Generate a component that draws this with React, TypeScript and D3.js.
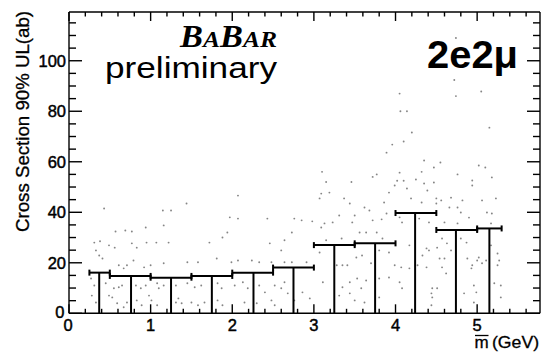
import React from "react";
import * as d3 from "d3";

const W = 541;
const H = 354;

// Mass bins of the upper-limit histogram (GeV)
const binLow = [0.25, 0.5, 1.0, 1.5, 2.0, 2.5, 3.0, 3.5, 4.0, 4.5, 5.0];
const binHigh = [0.5, 1.0, 1.5, 2.0, 2.5, 3.0, 3.5, 4.0, 4.5, 5.0, 5.3];
const binMark = [0.37, 0.76, 1.25, 1.75, 2.26, 2.75, 3.25, 3.75, 4.24, 4.74, 5.15];
// 90% CL upper limit on the cross section (ab)
const upperLimit = [16.1, 14.8, 14.1, 14.8, 16.1, 18.1, 27.0, 27.7, 39.7, 33.0, 33.6];

const xTickValues = [0, 1, 2, 3, 4, 5];
const yTickValues = [0, 20, 40, 60, 80, 100];

// Individual limit points scattered behind the histogram: [mass, UL]
const scatterPoints: [number, number][] = [
  [0.43, 41.5], [0.57, 32.4], [0.69, 32.8], [0.77, 32.4], [0.94, 34], [1.15, 40.7], [1.25, 40.7], [1.16, 34.8],
  [2.07, 46.6], [1.44, 43.5], [1.97, 38], [2.07, 37.5], [2.43, 37.5], [2.76, 37.5], [1.94, 32], [2.73, 32],
  [3.89, 63.6], [3.1, 56], [3.77, 55], [3.72, 54], [3.15, 52], [3.46, 52], [4.05, 55.7], [4.02, 52.5],
  [4.1, 52.5], [3.99, 50.6], [4.14, 49.4], [3.09, 47.4], [3.19, 47.8], [3.92, 47.8], [3.07, 45.5], [3.37, 45.5],
  [3.44, 43.5], [3.86, 43.9], [3.62, 41.9], [3.68, 40.7], [4.19, 45.5], [2.85, 36.8], [2.98, 36.4], [3.31, 38.7],
  [3.5, 38.7], [3.23, 36], [3.13, 35.6], [3.72, 36.8], [3.83, 37.2], [3.89, 39.5], [4.05, 38], [4.08, 36],
  [3.47, 36], [3.09, 34], [3.64, 32], [3.56, 32], [3.77, 32],
  [4.35, 60.5], [4.47, 57.7], [4.55, 59.7], [4.32, 56], [4.25, 53], [4.35, 51.4], [4.39, 48.6], [4.47, 51.8],
  [4.76, 55], [5.02, 58.5], [5.1, 57.7], [5.18, 53.8], [4.94, 52.6], [4.94, 50.6], [4.32, 43.9], [4.5, 45.5],
  [4.56, 44.7], [4.68, 45.8], [4.82, 44.7], [5.06, 44.7], [5.23, 45.5], [4.5, 43.5], [4.66, 41.9], [4.76, 41.9],
  [4.8, 39.9], [4.9, 37.9], [4.29, 37.5], [4.41, 36], [4.6, 36], [4.76, 35.6], [5.12, 39.9], [5.18, 39.5], [5.17, 35.6],
  [4.05, 87], [4.74, 109], [4.72, 92.4], [4.74, 86], [5.05, 87.8], [4.06, 80], [4.14, 80], [4.2, 71.6],
  [4.1, 68], [3.96, 66.8], [5.15, 73.5],
  [0.31, 28], [0.33, 24.9], [0.37, 22.9], [0.41, 21.7], [0.49, 26.9], [0.77, 27.7], [0.83, 26], [0.95, 28],
  [1.07, 28], [1.22, 28], [0.61, 19], [0.67, 17.8], [0.71, 19], [0.79, 20.9], [0.92, 18.2], [1, 19],
  [1.16, 19.8], [0.27, 13.8], [0.31, 11], [0.28, 7], [0.33, 4.3], [0.45, 11.9], [0.55, 9.9], [0.61, 10.3],
  [0.65, 11], [0.49, 7], [0.53, 6.3], [0.59, 4], [0.71, 4.3], [0.67, 2.4], [0.82, 11], [0.88, 9.9],
  [0.94, 11], [1.08, 11.9], [1.1, 9.9], [1.16, 11], [0.83, 5.1], [0.89, 3.2], [1.01, 5.1], [1.08, 3.2],
  [0.98, 7], [1.31, 11], [1.34, 5.9], [1.31, 4.3], [1.38, 4], [0.38, 28.5], [0.56, 26],
  [1.72, 28], [1.88, 30], [2.46, 27.7], [2.64, 28.9], [2.6, 24.9], [1.45, 20.2], [1.58, 20.2], [1.81, 21.7],
  [1.99, 20.2], [2.07, 20.9], [2.24, 20.9], [2.33, 20.2], [2.48, 20.2], [2.64, 20.2], [2.73, 20.2], [1.45, 11.9],
  [1.54, 10.3], [1.62, 11], [1.82, 11.9], [1.87, 9.9], [2.03, 11], [2.13, 12.3], [2.19, 9.9], [2.33, 11],
  [2.4, 8.3], [2.52, 11], [2.6, 9.9], [2.64, 12.3], [2.68, 7.9], [1.5, 4.3], [1.58, 3.2], [1.66, 4.3],
  [1.82, 5.1], [1.88, 3.2], [2.15, 4.3], [2.3, 4], [2.48, 5.1], [2.52, 3.2], [2.76, 5.1],
  [2.91, 20.2], [2.86, 8.3], [2.95, 5.9], [3.11, 12.3], [3.07, 24.1], [3.28, 19], [3.35, 19], [3.41, 19],
  [3.52, 22.1], [3.59, 22.9], [3.7, 19.8], [3.53, 13.8], [3.44, 12.3], [3.35, 10.3], [3.64, 13], [3.31, 7],
  [3.44, 7.9], [3.5, 5.1], [3.58, 9.9], [3.62, 4.3], [3.8, 24.9], [3.92, 24.1], [3.99, 19], [4.07, 18.2],
  [4.17, 17.8], [3.8, 13.8], [3.92, 14.2], [4.05, 12.3], [3.8, 6.3], [4.08, 9.9], [4.17, 26.9], [3.15, 28.9],
  [3.34, 29.6], [3.84, 29.6],
  [4.38, 25.7], [4.41, 24.9], [4.33, 22.9], [4.27, 19], [4.38, 18.2], [4.51, 26], [4.54, 21.7], [4.6, 21.7],
  [4.57, 18.2], [4.62, 15.8], [4.63, 27.7], [4.68, 24.9], [4.57, 29.6], [4.45, 9.9], [4.51, 9.9], [4.44, 7.9],
  [4.45, 6.3], [4.44, 3.2], [4.8, 29.6], [4.87, 28], [4.88, 21.7], [4.94, 19], [4.93, 17.8], [5.02, 22.1],
  [5.06, 19.8], [5.11, 20.9], [5, 20.9], [4.96, 11], [4.99, 8.3], [4.84, 7.9], [4.96, 4.3], [5.17, 26.9],
  [5.25, 23.7], [5.27, 20.9], [5.25, 19], [5.21, 11.9], [5.29, 11], [5.29, 6.3],
];

const FONT = "'Liberation Sans', Arial, Helvetica, sans-serif";

export default function App() {
  const x = d3.scaleLinear().domain([0, 5.77]).range([69, 540]);
  const y = d3.scaleLinear().domain([0, 119.3]).range([313.3, 12]);
  const [x0, x1] = x.range();
  const [yb, yt] = y.range();

  const xMinor = d3.range(0, 5.77, 0.2).filter((v) => Math.round(v * 5) % 5 !== 0);
  const yMinor = d3.range(0, 119.3, 5).filter((v) => Math.round(v) % 20 !== 0);

  const capH = 3;

  return (
    <svg
      width={W}
      height={H}
      viewBox={`0 0 ${W} ${H}`}
      style={{ position: "absolute", left: 0, top: 0, background: "#fff" }}
    >
      <rect x={0} y={0} width={W} height={H} fill="#fff" />

      {/* scattered limit points */}
      <g fill="#444" fillOpacity={0.65}>
        {scatterPoints.map(([mx, ul], i) => (
          <circle key={i} cx={x(mx)} cy={y(ul)} r={0.95} />
        ))}
      </g>

      {/* upper-limit histogram: vertical drop lines and bin-width bars */}
      <g stroke="#000" strokeWidth={2} fill="none">
        {upperLimit.map((v, i) => (
          <g key={i}>
            <line x1={x(binMark[i])} x2={x(binMark[i])} y1={yb} y2={y(v)} />
            <line x1={x(binLow[i])} x2={x(binHigh[i])} y1={y(v)} y2={y(v)} />
            <line x1={x(binLow[i])} x2={x(binLow[i])} y1={y(v) - capH} y2={y(v) + capH} />
            <line x1={x(binHigh[i])} x2={x(binHigh[i])} y1={y(v) - capH} y2={y(v) + capH} />
          </g>
        ))}
      </g>

      {/* frame */}
      <g stroke="#000" strokeWidth={1.4} fill="none">
        <line x1={x0} x2={x1} y1={yb} y2={yb} />
        <line x1={x0} x2={x1} y1={yt} y2={yt} />
        <line x1={x0} x2={x0} y1={yt} y2={yb} />
        <line x1={x1} x2={x1} y1={yt} y2={yb} />
      </g>

      {/* ticks */}
      <g stroke="#000" strokeWidth={1.4}>
        {xTickValues.map((v) => (
          <g key={`xt${v}`}>
            <line x1={x(v)} x2={x(v)} y1={yb} y2={yb - 9} />
            <line x1={x(v)} x2={x(v)} y1={yt} y2={yt + 9} />
          </g>
        ))}
        {xMinor.map((v, i) => (
          <g key={`xm${i}`}>
            <line x1={x(v)} x2={x(v)} y1={yb} y2={yb - 4.5} />
            <line x1={x(v)} x2={x(v)} y1={yt} y2={yt + 4.5} />
          </g>
        ))}
        {yTickValues.map((v) => (
          <g key={`yt${v}`}>
            <line x1={x0} x2={x0 + 13} y1={y(v)} y2={y(v)} />
            <line x1={x1} x2={x1 - 13} y1={y(v)} y2={y(v)} />
          </g>
        ))}
        {yMinor.map((v, i) => (
          <g key={`ym${i}`}>
            <line x1={x0} x2={x0 + 7} y1={y(v)} y2={y(v)} />
            <line x1={x1} x2={x1 - 7} y1={y(v)} y2={y(v)} />
          </g>
        ))}
      </g>

      {/* tick labels */}
      <g fontFamily={FONT} fontSize={16.5} fill="#000" stroke="#000" strokeWidth={0.45}>
        {xTickValues.map((v) => (
          <text key={`xl${v}`} x={x(v) - (v === 0 ? 1 : 0)} y={330.5} textAnchor="middle">
            {v}
          </text>
        ))}
        {yTickValues.map((v) => (
          <text key={`yl${v}`} x={v === 0 ? 64.5 : 66} y={y(v) + (v === 0 ? 4.5 : 6)} textAnchor="end">
            {v}
          </text>
        ))}
      </g>

      {/* axis titles */}
      <text
        fontFamily={FONT}
        fontSize={17.5}
        stroke="#000"
        strokeWidth={0.3}
        transform={`translate(28.5, 232) rotate(-90)`}
        textLength={221}
        lengthAdjust="spacingAndGlyphs"
      >
        Cross Section 90% UL(ab)
      </text>
      <text
        fontFamily={FONT}
        fontSize={16}
        stroke="#000"
        strokeWidth={0.3}
        x={492}
        y={347.5}
        textLength={47}
        lengthAdjust="spacingAndGlyphs"
      >
        (GeV)
      </text>
      <text fontFamily={FONT} fontSize={17} stroke="#000" strokeWidth={0.3} x={474.5} y={347.5}>
        m
      </text>
      <line x1={475} x2={488.5} y1={335.5} y2={335.5} stroke="#000" strokeWidth={1.3} />

      {/* experiment labels */}
      <text
        x={180}
        y={46.7}
        fontFamily="'Liberation Serif', 'Times New Roman', serif"
        fontStyle="italic"
        fontWeight="bold"
        textLength={97}
        lengthAdjust="spacingAndGlyphs"
      >
        <tspan fontSize={31}>B</tspan>
        <tspan fontSize={23}>A</tspan>
        <tspan fontSize={31}>B</tspan>
        <tspan fontSize={23}>AR</tspan>
      </text>
      <text
        x={105}
        y={78.3}
        fontFamily={FONT}
        fontSize={29}
        textLength={172}
        lengthAdjust="spacingAndGlyphs"
      >
        preliminary
      </text>
      <text
        x={427}
        y={68.3}
        fontFamily={FONT}
        fontSize={38}
        fontWeight="bold"
        textLength={91}
        lengthAdjust="spacingAndGlyphs"
      >
        2e2μ
      </text>
    </svg>
  );
}
